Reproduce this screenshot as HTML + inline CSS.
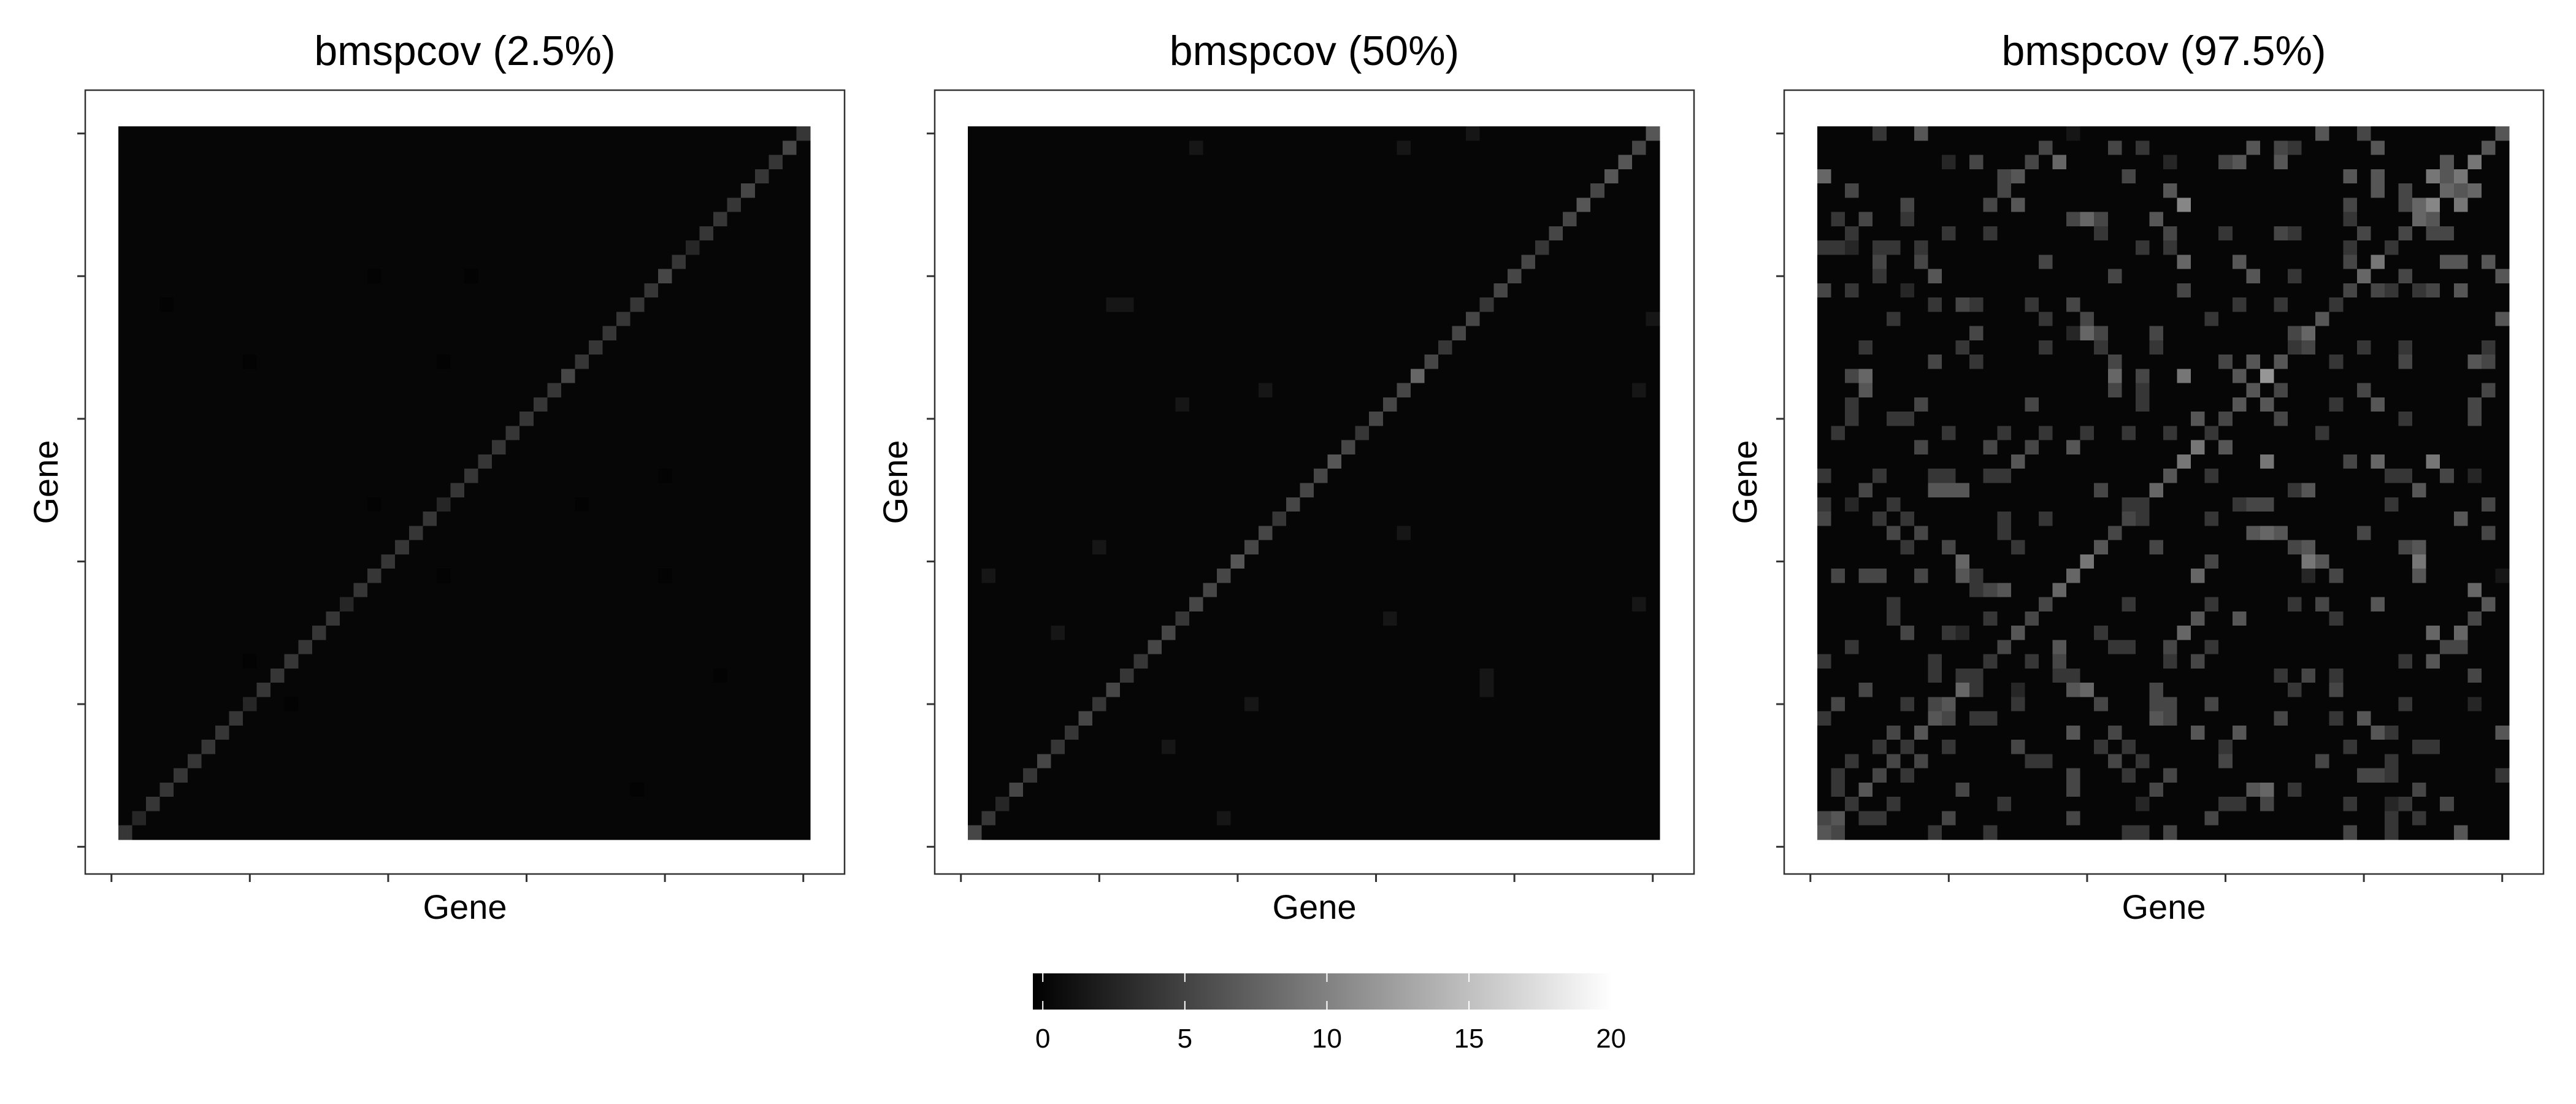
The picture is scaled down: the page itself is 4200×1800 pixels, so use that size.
<!DOCTYPE html>
<html>
<head>
<meta charset="utf-8">
<style>
  html,body{margin:0;padding:0;background:#fff;}
  svg{display:block;font-family:"Liberation Sans",Arial,sans-serif;}
</style>
</head>
<body>
<svg id="chart" width="4200" height="1800" viewBox="0 0 4200 1800" xmlns="http://www.w3.org/2000/svg">
  <defs>
    <linearGradient id="cbgrad" x1="0" x2="1" y1="0" y2="0">
      <stop offset="0" stop-color="#000"/>
      <stop offset="1" stop-color="#fff"/>
    </linearGradient>
  </defs>
</svg>
<script>
// ---- data ----
const genes = 50;
const panelTitles = ["bmspcov (2.5%)", "bmspcov (50%)", "bmspcov (97.5%)"];
const xTickGenes = [0, 10, 20, 30, 40, 50];
const yTickGenes = [0, 10, 20, 30, 40, 50];
const legendTicks = [0, 5, 10, 15, 20];
const legendMin = -0.35, legendMax = 20.05;
// diagonal intensity codes, listed from top row downward
const p1Diag = "3433433323" + "4333333433" + "3333332333" + "3332333333" + "2333333323";
const p2Diag = "5455454434" + "4434434644" + "4345444344" + "5444344334" + "3433434234";
// off-diagonal cells "row:col:code" (row from top); code 'z' = slightly darker than background
const p1Off = "10:18:z 10:25:z 12:3:z 16:23:z 16:9:z 26:18:z 26:33:z 24:39:z 31:23:z 31:39:z 37:9:z 40:12:z 46:37:z 38:43:z";
const p2Off = "0:36:1 1:16:1 1:31:1 12:10:1 12:11:1 13:49:1 18:21:1 19:15:1 18:48:1 28:31:1 29:9:1 31:1:1 33:48:1 34:30:1 35:6:1 38:37:1 39:37:1 40:20:1 43:14:1 48:18:1";
// panel 3 rows (from top) "col:code"
const p3Rows = [
"4:3 7:5 18:1 36:5 39:4 49:5",
"16:4 21:4 23:3 31:5 33:4 34:3 40:5 48:5",
"9:2 11:4 15:4 17:6 25:2 29:4 30:5 33:5 45:5 47:7",
"0:6 13:4 14:5 22:4 38:5 40:5 44:7 45:5 46:7",
"2:4 13:4 25:5 40:5 42:4 45:6 46:5 47:6",
"6:4 12:4 14:5 26:8 38:4 42:4 43:6 44:8 46:7",
"1:3 3:4 6:3 18:4 19:6 20:4 24:5 38:3 43:6 44:5",
"2:3 9:3 12:3 20:3 25:4 29:3 33:4 34:3 39:4 42:4 44:4 45:4",
"0:3 1:3 2:2 4:3 5:3 7:3 23:3 25:3 38:3 41:3",
"4:4 7:4 16:4 26:6 30:5 38:4 40:7 45:5 46:5 48:5",
"4:3 8:5 21:4 31:5 34:3 39:6 42:4 49:5",
"0:4 2:3 6:2 26:4 38:4 40:4 41:3 43:3 44:4 46:5",
"8:3 10:4 11:3 15:3 18:4 30:3 33:3 37:3",
"5:3 16:3 19:4 28:3 36:5 49:5",
"11:4 18:2 19:6 20:4 24:4 34:4 35:6",
"3:3 10:3 16:3 20:3 24:3 34:3 35:4 39:3 42:3 48:3",
"8:4 11:3 21:4 29:4 31:5 33:5 37:3 42:4 47:5 48:4",
"2:4 3:6 21:6 23:4 26:7 30:5 32:9",
"3:5 21:4 23:3 31:5 33:4 39:4 48:4",
"2:3 7:4 15:4 23:3 30:5 32:5 37:3 40:5 47:4",
"2:3 5:3 6:3 27:5 29:4 33:4 42:3 47:4",
"1:3 9:3 13:3 16:3 19:3 22:3 25:3 28:3 36:3",
"7:4 12:4 15:4 18:5 27:7 29:5",
"14:5 26:7 32:7 38:4 40:6 44:7",
"0:3 4:3 8:3 9:3 12:3 13:3 25:5 28:3 41:3 42:3 45:4 47:2",
"3:4 8:5 9:5 10:5 20:4 24:6 34:3 35:5 43:5",
"0:3 2:2 5:3 22:3 23:3 30:3 31:4 32:4 41:3 48:4",
"0:4 4:3 6:3 13:3 16:3 22:4 23:3 28:3 46:5",
"5:4 7:4 13:3 21:4 31:5 32:6 33:5 39:4 48:4",
"6:3 9:4 14:3 20:5 24:4 34:4 35:5 42:4 43:5",
"10:6 19:7 28:4 35:7 36:5 43:7",
"1:4 3:4 4:4 7:4 10:5 11:3 18:6 27:6 35:2 37:4 43:5 49:1",
"11:3 12:4 13:5 17:6 47:6",
"5:3 16:4 22:3 28:3 34:3 36:4 40:5 48:5",
"5:3 12:3 15:4 27:5 30:5 37:3 47:4",
"6:4 9:3 10:2 14:5 20:3 26:6 44:6 46:6",
"2:3 13:4 17:5 21:3 22:3 25:4 28:3 45:4 46:4",
"0:3 8:3 12:3 15:3 17:4 25:3 27:4 42:3 44:5",
"8:3 10:3 11:3 17:3 18:3 33:3 35:4 37:3 47:4",
"3:4 10:6 11:3 14:2 18:5 19:6 24:4 34:3 37:4",
"1:4 6:3 8:4 9:5 14:3 20:4 24:4 25:4 28:4 42:3 47:2",
"0:3 8:5 9:4 11:3 12:3 24:5 25:4 33:4 37:3 39:5",
"5:4 7:5 18:5 21:4 27:5 30:5 40:5 41:3 49:5",
"4:3 6:3 9:3 14:4 20:3 22:3 29:3 38:3 43:3 44:3",
"2:3 5:4 7:4 15:3 16:3 21:4 23:3 29:4 36:4 41:3",
"1:3 4:4 6:3 18:4 22:3 25:4 39:4 40:4 41:3 49:3",
"1:3 3:5 10:4 18:4 24:4 31:5 32:6 34:3 43:4",
"2:3 5:3 13:3 23:2 29:3 30:3 32:4 38:3 41:2 42:3 45:4",
"0:4 1:5 3:3 4:3 9:4 18:4 28:4 41:3 43:3",
"0:5 1:4 8:3 12:3 22:3 23:3 25:4 38:4 41:3 46:5"
];
const bgValue = 0.45;
const darkValue = 0.2;

// ---- helpers ----
const NS = "http://www.w3.org/2000/svg";
const svg = document.getElementById("chart");
function mk(tag, attrs, parent) {
  const e = document.createElementNS(NS, tag);
  for (const k in attrs) e.setAttribute(k, attrs[k]);
  (parent || svg).appendChild(e);
  return e;
}
function codeValue(ch) {
  if (ch === "z") return darkValue;
  const d = parseInt(ch, 10);
  if (d === 0) return 0;
  return (16 * d + 6) * 20 / 255;
}
function valueColor(v) {
  const g = Math.max(0, Math.min(255, Math.round(v / 20 * 255)));
  return "rgb(" + g + "," + g + "," + g + ")";
}
function buildMatrix(diag, off, rows) {
  const m = [];
  for (let r = 0; r < genes; r++) { m.push(new Array(genes).fill(bgValue)); }
  if (diag) for (let r = 0; r < genes; r++) m[r][genes - 1 - r] = codeValue(diag.charAt(r) || "3");
  if (off) off.trim().split(/\s+/).forEach(t => { const p = t.split(":"); m[+p[0]][+p[1]] = codeValue(p[2]); });
  if (rows) rows.forEach((s, r) => { s.trim().split(/\s+/).forEach(t => { if (!t) return; const p = t.split(":"); m[r][+p[0]] = codeValue(p[1]); }); });
  return m;
}
const matrices = [
  buildMatrix(p1Diag, p1Off, null),
  buildMatrix(p2Diag, p2Off, null),
  buildMatrix(null, null, p3Rows)
];

// ---- layout ----
const PANEL_DX = 1385;
const HM = { x0: 193, x1: 1321, y0: 206, y1: 1369 };
const FR = { x0: 139, x1: 1377, y0: 147, y1: 1425 };
const cw = (HM.x1 - HM.x0) / genes, ch = (HM.y1 - HM.y0) / genes;

for (let p = 0; p < 3; p++) {
  const dx = p * PANEL_DX;
  const xScale = g => HM.x0 + dx + (g - 0.5) * cw;   // gene -> center x
  const yScale = g => HM.y1 - (g - 0.5) * ch;        // gene -> center y
  const g = mk("g", {});
  
  

  const title = mk("text", { x: (FR.x0 + FR.x1) / 2 + dx, y: 106, "text-anchor": "middle", "font-size": 68, fill: "#000" }, g);
  title.textContent = panelTitles[p];
  
  

  const cells = mk("g", { "shape-rendering": "crispEdges" }, g);
  
  
  const m = matrices[p];
  for (let r = 0; r < genes; r++) {
    for (let c = 0; c < genes; c++) {
      const gx = c + 1, gy = genes - r;
      const rect = mk("rect", { x: (xScale(gx) - cw / 2).toFixed(2), y: (yScale(gy) - ch / 2).toFixed(2), width: (cw + 0.6).toFixed(2), height: (ch + 0.6).toFixed(2), fill: valueColor(m[r][c]) }, cells);
      
      
    }
  }

  const frame = mk("rect", { x: FR.x0 + dx, y: FR.y0, width: FR.x1 - FR.x0, height: FR.y1 - FR.y0, fill: "none", stroke: "#333", "stroke-width": 2.5 }, g);
  
  

  xTickGenes.forEach(t => {
    const l = mk("line", { x1: xScale(t), x2: xScale(t), y1: FR.y1, y2: FR.y1 + 13, stroke: "#333", "stroke-width": 3 }, g);
    
    
  });
  yTickGenes.forEach(t => {
    const l = mk("line", { x1: FR.x0 + dx - 13, x2: FR.x0 + dx, y1: yScale(t), y2: yScale(t), stroke: "#333", "stroke-width": 3 }, g);
    
    
  });

  const xl = mk("text", { x: (FR.x0 + FR.x1) / 2 + dx, y: 1498, "text-anchor": "middle", "font-size": 56, fill: "#000" }, g);
  xl.textContent = "Gene";
  
  

  const yl = mk("text", { x: 0, y: 0, "text-anchor": "middle", "font-size": 56, fill: "#000", transform: "translate(" + (94 + dx) + "," + ((FR.y0 + FR.y1) / 2) + ") rotate(-90)" }, g);
  yl.textContent = "Gene";
  
  
}

// ---- colorbar legend ----
const CB = { x0: 1684, x1: 2629, y0: 1587, y1: 1646 };
const lx = v => CB.x0 + (v - legendMin) / (legendMax - legendMin) * (CB.x1 - CB.x0);
const lg = mk("g", {});


const bar = mk("rect", { x: CB.x0, y: CB.y0, width: CB.x1 - CB.x0, height: CB.y1 - CB.y0, fill: "url(#cbgrad)" }, lg);


legendTicks.forEach(t => {
  const x = lx(t);
  const a = mk("line", { x1: x, x2: x, y1: CB.y0, y2: CB.y0 + 14, stroke: "#fff", "stroke-width": 2 }, lg);
  
  
  const b = mk("line", { x1: x, x2: x, y1: CB.y1 - 14, y2: CB.y1, stroke: "#fff", "stroke-width": 2 }, lg);
  
  
  const tx = mk("text", { x: x, y: 1708, "text-anchor": "middle", "font-size": 44, fill: "#000" }, lg);
  tx.textContent = String(t);
  
  
});
</script>
</body>
</html>
